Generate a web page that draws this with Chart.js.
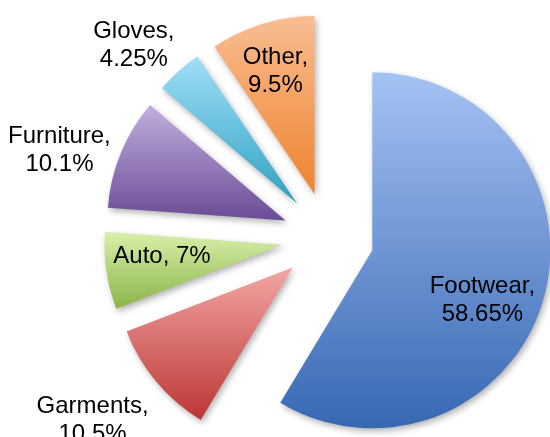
<!DOCTYPE html>
<html>
<head>
<meta charset="utf-8">
<script src="https://cdn.jsdelivr.net/npm/chart.js@4"></script>
<style>
  body { margin: 0; background: #fff; }
</style>
</head>
<body>
<canvas id="myChart" width="550" height="437"></canvas>
<script>
const categories = ['Footwear', 'Garments', 'Auto', 'Furniture', 'Gloves', 'Other'];
const shares = [58.65, 10.5, 7, 10.1, 4.25, 9.5];
const shareLabels = ['58.65%', '10.5%', '7%', '10.1%', '4.25%', '9.5%'];
const oneLine = [false, false, true, false, false, false];

// each slice fades from a light top to a darker bottom
const topColors = ['#a5c2f4', '#f3a6a4', '#d8f0a9', '#c2afdf', '#a0def7', '#f9bd92'];
const bottomColors = ['#3868b3', '#bb3634', '#8bb449', '#6a4b95', '#2ea2c1', '#ef832e'];

// where the text sits, seen from the tip of its slice
const labelTurn = [9, 2.6, 3, -5, -4, -0.5];
const labelDist = [0.68, 1.415, 0.68, 1.33, 1.28, 0.725];

const EXPLODE = 46;

const explodePlugin = {
  id: 'explode',
  afterDatasetUpdate(chart, args) {
    const ctx = chart.ctx;
    args.meta.data.forEach((arc, i) => {
      const mid = (arc.startAngle + arc.endAngle) / 2;
      arc.x += Math.cos(mid) * EXPLODE;
      arc.y += Math.sin(mid) * EXPLODE;
      let top = arc.y, bottom = arc.y;
      for (let k = 0; k <= 64; k++) {
        const a = arc.startAngle + (arc.endAngle - arc.startAngle) * k / 64;
        const y = arc.y + Math.sin(a) * arc.outerRadius;
        top = Math.min(top, y);
        bottom = Math.max(bottom, y);
      }
      const g = ctx.createLinearGradient(0, top, 0, bottom);
      g.addColorStop(0, topColors[i]);
      g.addColorStop(1, bottomColors[i]);
      arc.options = Object.assign({}, arc.options, { backgroundColor: g });
    });
  },
  beforeDatasetsDraw(chart) {
    const ctx = chart.ctx;
    ctx.save();
    ctx.shadowColor = 'rgba(0,0,0,0.3)';
    ctx.shadowBlur = 6;
    ctx.shadowOffsetX = 2;
    ctx.shadowOffsetY = 3;
  },
  afterDatasetsDraw(chart) {
    const ctx = chart.ctx;
    ctx.restore();
    const arcs = chart.getDatasetMeta(0).data;
    ctx.save();
    ctx.font = '24px "Liberation Sans", Arial, sans-serif';
    ctx.fillStyle = '#000';
    ctx.textAlign = 'center';
    ctx.textBaseline = 'middle';
    arcs.forEach((arc, i) => {
      const a = (arc.startAngle + arc.endAngle) / 2 + labelTurn[i] * Math.PI / 180;
      const d = labelDist[i] * arc.outerRadius;
      const cx = arc.x + Math.cos(a) * d;
      const cy = arc.y + Math.sin(a) * d;
      const lines = oneLine[i]
        ? [categories[i] + ', ' + shareLabels[i]]
        : [categories[i] + ',', shareLabels[i]];
      lines.forEach((t, k) => {
        ctx.fillText(t, cx, cy + (k - (lines.length - 1) / 2) * 28);
      });
    });
    ctx.restore();
  }
};

new Chart(document.getElementById('myChart'), {
  type: 'pie',
  data: {
    labels: categories,
    datasets: [{
      data: shares,
      backgroundColor: topColors,
      borderWidth: 0
    }]
  },
  options: {
    responsive: false,
    animation: false,
    events: [],
    radius: 178,
    layout: { padding: { left: 106, top: 39, right: 0, bottom: 0 } },
    plugins: {
      legend: { display: false },
      tooltip: { enabled: false }
    }
  },
  plugins: [explodePlugin]
});
</script>
</body>
</html>
